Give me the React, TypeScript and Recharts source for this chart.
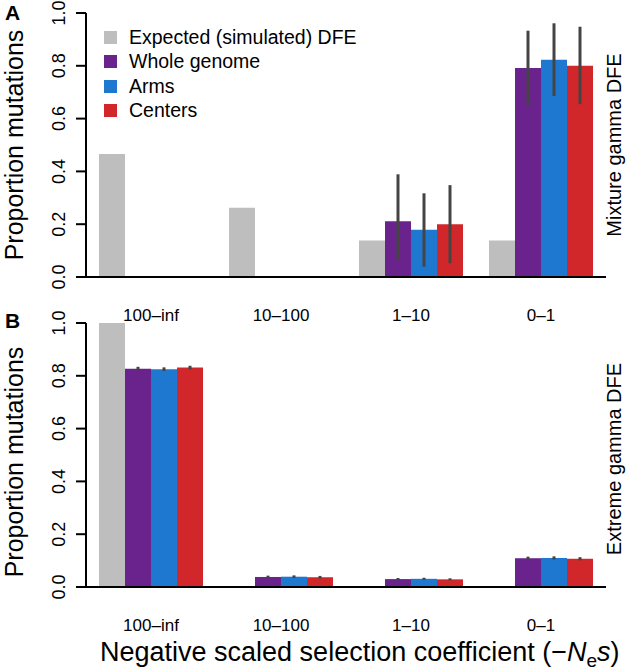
import React from "react";
import { BarChart, Bar, XAxis, YAxis, ErrorBar } from "recharts";

const categories = ["100\u2013inf", "10\u2013100", "1\u201310", "0\u20131"];
const yTicks = [0, 0.2, 0.4, 0.6, 0.8, 1.0];

const seriesNames = ["Expected (simulated) DFE", "Whole genome", "Arms", "Centers"];
const seriesKeys = ["expected", "whole", "arms", "centers"];
const seriesColors = ["#bebebe", "#6a238d", "#1f78d0", "#d1262a"];

// panel A: mixture gamma DFE
const mixExpected = [0.466, 0.262, 0.138, 0.138];
const mixWhole = [0, 0, 0.211, 0.792];
const mixWholeLo = [null, null, 0.067, 0.648];
const mixWholeHi = [null, null, 0.389, 0.933];
const mixArms = [0, 0, 0.179, 0.823];
const mixArmsLo = [null, null, 0.039, 0.686];
const mixArmsHi = [null, null, 0.317, 0.961];
const mixCenters = [0, 0, 0.2, 0.8];
const mixCentersLo = [null, null, 0.052, 0.655];
const mixCentersHi = [null, null, 0.348, 0.948];

// panel B: extreme gamma DFE
const extExpected = [1.0, 0, 0, 0];
const extWhole = [0.827, 0.038, 0.03, 0.109];
const extWholeLo = [0.82, 0.033, 0.026, 0.103];
const extWholeHi = [0.834, 0.043, 0.034, 0.115];
const extArms = [0.825, 0.039, 0.031, 0.11];
const extArmsLo = [0.818, 0.034, 0.027, 0.104];
const extArmsHi = [0.832, 0.044, 0.035, 0.116];
const extCenters = [0.831, 0.037, 0.029, 0.107];
const extCentersLo = [0.824, 0.032, 0.025, 0.101];
const extCentersHi = [0.838, 0.042, 0.033, 0.113];

const FONT = "'Liberation Sans', Arial, Helvetica, sans-serif";

const err = (v: number, lo: (number | null)[], hi: (number | null)[], i: number) =>
  lo[i] == null || hi[i] == null ? null : [v - (lo[i] as number), (hi[i] as number) - v];

function buildRows(
  expected: number[],
  whole: number[], wLo: (number | null)[], wHi: (number | null)[],
  arms: number[], aLo: (number | null)[], aHi: (number | null)[],
  centers: number[], cLo: (number | null)[], cHi: (number | null)[]
) {
  return categories.map((cat, i) => ({
    cat,
    expected: expected[i],
    whole: whole[i],
    wholeErr: err(whole[i], wLo, wHi, i),
    arms: arms[i],
    armsErr: err(arms[i], aLo, aHi, i),
    centers: centers[i],
    centersErr: err(centers[i], cLo, cHi, i),
  }));
}

const mixRows = buildRows(
  mixExpected, mixWhole, mixWholeLo, mixWholeHi, mixArms, mixArmsLo, mixArmsHi,
  mixCenters, mixCentersLo, mixCentersHi
);
const extRows = buildRows(
  extExpected, extWhole, extWholeLo, extWholeHi, extArms, extArmsLo, extArmsHi,
  extCenters, extCentersLo, extCentersHi
);

const YTick = (props: any) => {
  const { x, y, payload } = props;
  const bx = x - 9;
  return (
    <text
      x={bx}
      y={y}
      transform={`rotate(-90, ${bx}, ${y})`}
      textAnchor="middle"
      fontSize={18}
      fontFamily={FONT}
      fill="#000"
    >
      {Number(payload.value).toFixed(1)}
    </text>
  );
};

const XTick = (props: any) => {
  const { x, y, payload } = props;
  return (
    <text x={x} y={y + 42} textAnchor="middle" fontSize={17} fontFamily={FONT} fill="#000">
      {payload.value}
    </text>
  );
};

const LegendBox = () => (
  <div
    style={{
      position: "absolute",
      top: 25,
      left: 104,
      fontFamily: FONT,
      fontSize: 19.5,
      color: "#000",
    }}
  >
    {seriesNames.map((n, i) => (
      <div key={n} style={{ display: "flex", alignItems: "center", height: 24.5 }}>
        <span
          style={{
            display: "inline-block",
            width: 13,
            height: 13,
            background: seriesColors[i],
            marginRight: 12,
          }}
        />
        <span>{n}</span>
      </div>
    ))}
  </div>
);

function Panel({ rows }: { rows: any[] }) {
  return (
    <BarChart
      width={627}
      height={335}
      data={rows}
      margin={{ top: 13, right: 21, bottom: 0, left: 0 }}
      barGap={0}
      barSize={26}
    >
      <XAxis
        dataKey="cat"
        height={58}
        tickLine={false}
        tickSize={0}
        axisLine={{ stroke: "#000", strokeWidth: 2 }}
        tick={<XTick />}
        interval={0}
      />
      <YAxis
        width={86}
        domain={[0, 1]}
        ticks={yTicks}
        interval={0}
        tickSize={10}
        tickMargin={2}
        tickLine={{ stroke: "#000", strokeWidth: 2 }}
        axisLine={{ stroke: "#000", strokeWidth: 2 }}
        tick={<YTick />}
      />
      {seriesKeys.map((k, i) => (
        <Bar
          key={k}
          dataKey={k}
          name={seriesNames[i]}
          fill={seriesColors[i]}
          isAnimationActive={false}
        >
          {k !== "expected" && (
            <ErrorBar dataKey={`${k}Err`} width={0} stroke="#444" strokeWidth={3} />
          )}
        </Bar>
      ))}
    </BarChart>
  );
}

export default function App() {
  return (
    <div
      style={{
        position: "absolute",
        left: 0,
        top: 0,
        width: 627,
        height: 671,
        background: "#fff",
        overflow: "hidden",
      }}
    >
      <div style={{ position: "absolute", left: 0, top: 310 }}>
        <Panel rows={extRows} />
      </div>
      <div style={{ position: "absolute", left: 0, top: 0 }}>
        <Panel rows={mixRows} />
      </div>
      <LegendBox />
      <svg
        width={627}
        height={671}
        style={{ position: "absolute", left: 0, top: 0, pointerEvents: "none" }}
        fontFamily={FONT}
      >
        <text x={5} y={20} fontSize={21} fontWeight="bold">A</text>
        <text x={5} y={328} fontSize={21} fontWeight="bold">B</text>
        <text x={23} y={145} transform="rotate(-90, 23, 145)" textAnchor="middle" fontSize={25}>
          Proportion mutations
        </text>
        <text x={23} y={462} transform="rotate(-90, 23, 462)" textAnchor="middle" fontSize={25}>
          Proportion mutations
        </text>
        <text x={621} y={145} transform="rotate(-90, 621, 145)" textAnchor="middle" fontSize={20}>
          Mixture gamma DFE
        </text>
        <text x={621} y={459} transform="rotate(-90, 621, 459)" textAnchor="middle" fontSize={20}>
          Extreme gamma DFE
        </text>
        <text x={100} y={661} fontSize={27}>
          {"Negative scaled selection coefficient (\u2212"}
          <tspan fontStyle="italic">N</tspan>
          <tspan dy={6} fontSize={19}>e</tspan>
          <tspan dy={-6} fontStyle="italic">s</tspan>
          {")"}
        </text>
      </svg>
    </div>
  );
}
